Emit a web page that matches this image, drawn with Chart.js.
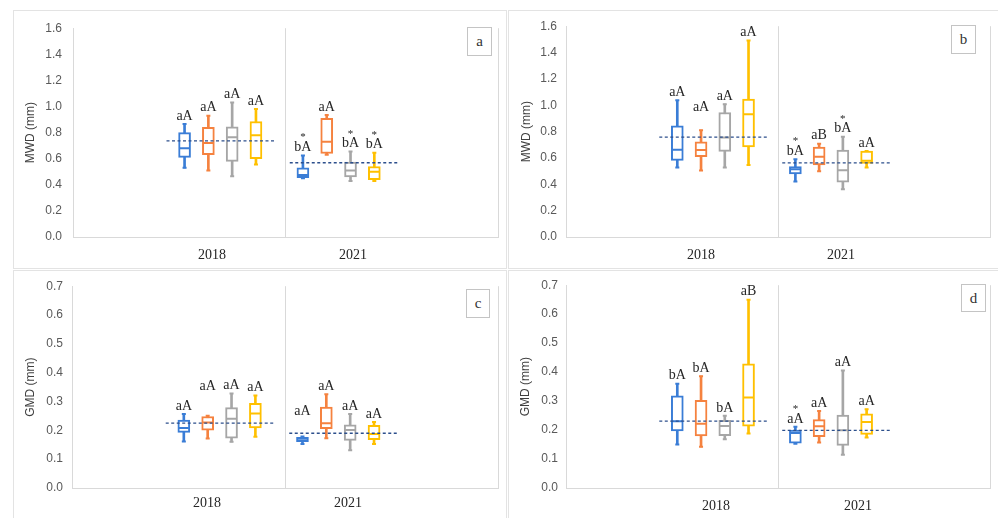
<!DOCTYPE html>
<html>
<head>
<meta charset="utf-8">
<script src="https://cdn.jsdelivr.net/npm/chart.js@4.4.1/dist/chart.umd.min.js"></script>
<style>
  html, body { margin: 0; padding: 0; background: #fff; }
  body { width: 998px; height: 518px; position: relative; overflow: hidden; }
  .frame { position: absolute; border: 1px solid #e3e3e3; box-sizing: border-box; }
  canvas { position: absolute; }
  .tag { position: absolute; box-sizing: border-box; border: 1.5px solid #c4c4c4; background: #fff;
         font: 15px "Liberation Serif", serif; color: #333; display: flex; align-items: center; justify-content: center; }
</style>
</head>
<body>
<div class="frame" style="left:13px;top:10px;width:494px;height:259px"></div>
<div class="frame" style="left:508px;top:10px;width:600px;height:259px"></div>
<div class="frame" style="left:13px;top:270px;width:494px;height:300px"></div>
<div class="frame" style="left:508px;top:270px;width:600px;height:300px"></div>

<canvas id="pa" width="493" height="258" style="left:13px;top:10px"></canvas>
<canvas id="pb" width="490" height="258" style="left:508px;top:10px"></canvas>
<canvas id="pc" width="493" height="248" style="left:13px;top:270px"></canvas>
<canvas id="pd" width="488" height="248" style="left:510px;top:270px"></canvas>

<div class="tag" style="left:467px;top:27px;width:25px;height:29px">a</div>
<div class="tag" style="left:951px;top:25px;width:25px;height:29px">b</div>
<div class="tag" style="left:466px;top:289px;width:24px;height:29px">c</div>
<div class="tag" style="left:961px;top:284px;width:25px;height:28px">d</div>

<script>
// categories
var years = ['2018', '2021'];

// each series: one [min, q1, median, q3, max] per year
// panel a (MWD)
var mwdA_blue   = [[0.53, 0.61, 0.68, 0.80, 0.865], [0.45, 0.455, 0.475, 0.53, 0.625]];
var mwdA_orange = [[0.51, 0.63, 0.72, 0.84, 0.93], [0.63, 0.64, 0.73, 0.91, 0.935]];
var mwdA_gray   = [[0.465, 0.58, 0.765, 0.845, 1.03], [0.43, 0.46, 0.51, 0.575, 0.655]];
var mwdA_yellow = [[0.555, 0.60, 0.78, 0.885, 0.98], [0.43, 0.44, 0.50, 0.54, 0.645]];
var mwdA_mean   = [0.736, 0.569];
var mwdA_letters = [['aA', 'aA', 'aA', 'aA'], ['bA', 'aA', 'bA', 'bA']];
var mwdA_stars   = [[0, 0, 0, 0], [1, 0, 1, 1]];

// panel b (MWD)
var mwdB_blue   = [[0.527, 0.582, 0.663, 0.844, 1.038], [0.421, 0.479, 0.514, 0.534, 0.59]];
var mwdB_orange = [[0.504, 0.61, 0.66, 0.723, 0.811], [0.499, 0.547, 0.61, 0.683, 0.708]];
var mwdB_gray   = [[0.527, 0.65, 0.756, 0.945, 1.008], [0.363, 0.416, 0.506, 0.66, 0.761]];
var mwdB_yellow = [[0.547, 0.683, 0.932, 1.046, 1.492], [0.527, 0.559, 0.579, 0.653, 0.653]];
var mwdB_mean   = [0.758, 0.562];
var mwdB_letters = [['aA', 'aA', 'aA', 'aA'], ['bA', 'aB', 'bA', 'aA']];
var mwdB_stars   = [[0, 0, 0, 0], [1, 0, 1, 0]];

// panel c (GMD)
var gmdC_blue   = [[0.161, 0.193, 0.208, 0.236, 0.257], [0.153, 0.161, 0.171, 0.176, 0.179]];
var gmdC_orange = [[0.172, 0.201, 0.227, 0.248, 0.251], [0.173, 0.206, 0.225, 0.281, 0.325]];
var gmdC_gray   = [[0.160, 0.173, 0.240, 0.279, 0.328], [0.131, 0.165, 0.201, 0.219, 0.257]];
var gmdC_yellow = [[0.178, 0.208, 0.258, 0.294, 0.321], [0.153, 0.168, 0.187, 0.217, 0.229]];
var gmdC_mean   = [0.225, 0.190];
var gmdC_letters = [['aA', 'aA', 'aA', 'aA'], ['aA', 'aA', 'aA', 'aA']];
var gmdC_stars   = [[0, 0, 0, 0], [0, 0, 0, 0]];

// panel d (GMD)
var gmdD_blue   = [[0.150, 0.197, 0.230, 0.318, 0.360], [0.153, 0.155, 0.190, 0.200, 0.211]];
var gmdD_orange = [[0.142, 0.180, 0.222, 0.303, 0.386], [0.157, 0.177, 0.213, 0.236, 0.266]];
var gmdD_gray   = [[0.168, 0.181, 0.214, 0.234, 0.249], [0.115, 0.147, 0.199, 0.252, 0.406]];
var gmdD_yellow = [[0.188, 0.213, 0.312, 0.429, 0.650], [0.174, 0.185, 0.228, 0.256, 0.272]];
var gmdD_mean   = [0.231, 0.199];
var gmdD_letters = [['bA', 'bA', 'bA', 'aB'], ['aA', 'aA', 'aA', 'aA']];
var gmdD_stars   = [[0, 0, 0, 0], [1, 0, 0, 0]];

var mwdTicks = [0, 1.6, 0.2];   // min, max, step
var gmdTicks = [0, 0.7, 0.1];

// ---- styling / layout ----
var colors = ['#3a7dd6', '#f5823f', '#a6a6a6', '#ffc000'];
var groupStart = [0.525, 1.082];   // x of first box in each year group (axis runs 0..2)
var boxStep = 0.112;
var meanSpan = [[0.44, 0.95], [1.02, 1.53]];
var axisGray = '#d9d9d9';

var panels = [
  { id: 'pa', stats: [mwdA_blue, mwdA_orange, mwdA_gray, mwdA_yellow], mean: mwdA_mean, letters: mwdA_letters, stars: mwdA_stars,
    ticks: mwdTicks, title: 'MWD (mm)', yw: 60, top: 16, right: 8, xh: 31, xPad: 10, tickPad: 11, titlePad: 10,
    yearAt: [0.654, 1.318], lift: {} },
  { id: 'pb', stats: [mwdB_blue, mwdB_orange, mwdB_gray, mwdB_yellow], mean: mwdB_mean, letters: mwdB_letters, stars: mwdB_stars,
    ticks: mwdTicks, title: 'MWD (mm)', yw: 58, top: 16, right: 8, xh: 31, xPad: 10, tickPad: 9, titlePad: 11,
    yearAt: [0.637, 1.297], lift: { '1-0': 15 } },
  { id: 'pc', stats: [gmdC_blue, gmdC_orange, gmdC_gray, gmdC_yellow], mean: gmdC_mean, letters: gmdC_letters, stars: gmdC_stars,
    ticks: gmdTicks, title: 'GMD (mm)', yw: 59, top: 16, right: 8, xh: 30, xPad: 7, tickPad: 9, titlePad: 10,
    yearAt: [0.634, 1.296], lift: { '1-0': 21, '0-1': 17 } },
  { id: 'pd', stats: [gmdD_blue, gmdD_orange, gmdD_gray, gmdD_yellow], mean: gmdD_mean, letters: gmdD_letters, stars: gmdD_stars,
    ticks: gmdTicks, title: 'GMD (mm)', yw: 56, top: 15, right: 8, xh: 30, xPad: 10, tickPad: 8, titlePad: 8,
    yearAt: [0.708, 1.377], lift: {} }
];

// letters + significance stars above each whisker
var letterPlugin = {
  id: 'letters',
  afterDatasetsDraw: function(chart){
    var p = chart.config.options.plugins.letters;
    var ctx = chart.ctx, xs = chart.scales.x, ys = chart.scales.y;
    ctx.save();
    ctx.fillStyle = '#262626';
    ctx.textAlign = 'center';
    p.stats.forEach(function(st, s){
      years.forEach(function(yr, j){
        var x = xs.getPixelForValue(groupStart[j] + s * boxStep);
        var y = ys.getPixelForValue(st[j][4]) - 8 - (p.lift[s + '-' + j] || 0);
        ctx.font = '14px "Liberation Serif", serif';
        ctx.textBaseline = 'middle';
        ctx.fillText(p.letters[j][s], x, y);
        if(p.stars[j][s]){
          ctx.font = '11px "Liberation Serif", serif';
          ctx.textBaseline = 'alphabetic';
          ctx.fillText('*', x, y - 7);
        }
      });
    });
    ctx.restore();
  }
};

function makePanel(p){
  var datasets = [];
  p.stats.forEach(function(st, s){
    var col = colors[s];
    var xs = years.map(function(_, j){ return groupStart[j] + s * boxStep; });
    // whisker
    datasets.push({ type: 'bar', order: 4, grouped: false, barThickness: 2, backgroundColor: col, borderWidth: 0,
      data: xs.map(function(x, j){ return { x: x, y: [st[j][0], st[j][4]] }; }) });
    // box
    datasets.push({ type: 'bar', order: 3, grouped: false, barThickness: 12, backgroundColor: '#ffffff',
      borderColor: col, borderWidth: 2, borderSkipped: false,
      data: xs.map(function(x, j){ return { x: x, y: [st[j][1], st[j][3]] }; }) });
    // whisker caps
    var caps = [];
    xs.forEach(function(x, j){ caps.push({ x: x, y: st[j][0] }); caps.push({ x: x, y: st[j][4] }); });
    datasets.push({ type: 'line', order: 2, showLine: false, pointStyle: 'line', pointRadius: 2,
      pointBorderWidth: 2, pointBorderColor: col, data: caps });
    // median
    datasets.push({ type: 'line', order: 1, showLine: false, pointStyle: 'line', pointRadius: 5,
      pointBorderWidth: 2, pointBorderColor: col,
      data: xs.map(function(x, j){ return { x: x, y: st[j][2] }; }) });
  });
  // overall mean per year, dashed
  var meanPts = [];
  p.mean.forEach(function(m, j){
    if(j > 0){ meanPts.push({ x: (meanSpan[j - 1][1] + meanSpan[j][0]) / 2, y: null }); }
    meanPts.push({ x: meanSpan[j][0], y: m });
    meanPts.push({ x: meanSpan[j][1], y: m });
  });
  datasets.push({ type: 'line', order: 0, data: meanPts, borderColor: '#2c4f8c', borderWidth: 1.3,
    borderDash: [3, 2.5], pointRadius: 0, spanGaps: false, fill: false });

  return new Chart(document.getElementById(p.id), {
    type: 'bar',
    data: { datasets: datasets },
    options: {
      responsive: false,
      animation: false,
      events: [],
      layout: { padding: { left: 0, top: p.top, right: p.right, bottom: 0 } },
      plugins: { legend: { display: false }, tooltip: { enabled: false }, letters: p },
      scales: {
        x: {
          type: 'linear', min: 0, max: 2, offset: false,
          afterBuildTicks: function(sc){ sc.ticks = p.yearAt.map(function(v){ return { value: v }; }); },
          afterFit: function(sc){ sc.height = p.xh; },
          ticks: { autoSkip: false, maxRotation: 0, padding: p.xPad, color: '#262626',
            font: { family: '"Liberation Serif", serif', size: 14 },
            callback: function(v, i){ return years[i]; } },
          grid: { display: false, drawTicks: false, offset: false },
          border: { display: true, color: axisGray, width: 1 }
        },
        xDiv: {
          type: 'linear', position: 'bottom', min: 0, max: 2, offset: false,
          afterBuildTicks: function(sc){ sc.ticks = [{ value: 1 }, { value: 2 }]; },
          afterFit: function(sc){ sc.height = 0; },
          ticks: { display: false },
          grid: { color: axisGray, lineWidth: 1, drawTicks: false, offset: false },
          border: { display: false }
        },
        y: {
          min: p.ticks[0], max: p.ticks[1],
          afterFit: function(sc){ sc.width = p.yw; },
          ticks: { stepSize: p.ticks[2], padding: p.tickPad, color: '#595959',
            font: { family: '"Liberation Sans", sans-serif', size: 12 },
            callback: function(v){ return Number(v).toFixed(1); } },
          grid: { display: false, drawTicks: false },
          border: { display: true, color: axisGray, width: 1 },
          title: { display: true, text: p.title, color: '#404040', padding: { top: p.titlePad, bottom: 0 },
            font: { family: '"Liberation Sans", sans-serif', size: 12 } }
        }
      }
    },
    plugins: [letterPlugin]
  });
}

panels.forEach(makePanel);
</script>
</body>
</html>
